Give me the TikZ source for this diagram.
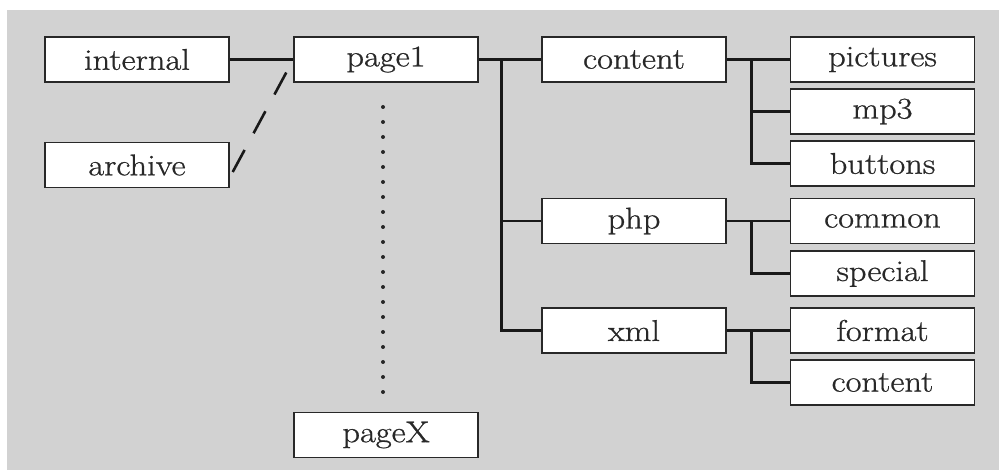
\documentclass[tikz,border=0pt]{standalone}
\usepackage{fontspec}
\setmainfont{Latin Modern Roman}[FakeStretch=1.15, FakeBold=0.8]
\definecolor{panel}{RGB}{210,210,210}
\definecolor{ink}{RGB}{40,40,40}
\tikzset{
  folder/.style={draw=ink, line width=1.4pt, fill=white, minimum width=184pt,
    minimum height=45pt, inner sep=0pt, text=ink,
    font=\fontsize{30}{34}\selectfont},
  link/.style={line width=2.6pt, black!90},
  dashlink/.style={line width=2.6pt, black!90, dash pattern=on 25pt off 19pt}
}
\begin{document}
\begin{tikzpicture}[x=1pt, y=-1pt]
  \useasboundingbox (0,0) rectangle (999,470);
  \fill[panel] (7,10) rectangle (999,470);

  % left column and page chain
  \node[folder] (internal) at (137,59.5) {internal};
  \node[folder] (archive)  at (137,165)  {archive};
  \node[folder] (page1)    at (386,59.5) {page1};
  \node[folder] (pageX)    at (386,435)  {pageX};

  % first-level folders
  \node[folder] (content) at (634,59.5) {content};
  \node[folder] (php)     at (634,221)  {php};
  \node[folder] (xml)     at (634,330.5){xml};

  % second-level folders
  \node[folder] (pictures) at (882.5,59.5)  {pictures};
  \node[folder] (mp3)      at (882.5,111.5) {mp3};
  \node[folder] (buttons)  at (882.5,163.5) {buttons};
  \node[folder] (common)   at (882.5,221)   {common};
  \node[folder] (special)  at (882.5,273.5) {special};
  \node[folder] (format)   at (882.5,330.5) {format};
  \node[folder] (content2) at (882.5,382.5) {content};

  % links into page1
  \draw[link] (internal.east) -- (page1.west);
  \draw[dashlink] ([xshift=3pt,yshift=-7pt]archive.east) -- (page1.west);

  % elided pages between page1 and pageX
  \foreach \k in {0,...,19}
    \fill[black!85] (383,107+15*\k) circle (2pt);

  % page1 subtree
  \draw[link] (page1.east) -- (content.west);
  \draw[link] (page1.east) -- ++(23,0) |- (xml.west);
  \draw[link] (page1.east) ++(23,0) |- (php.west);

  % content subtree
  \draw[link] (content.east) -- (pictures.west);
  \draw[link] (content.east) -- ++(25,0) |- (buttons.west);
  \draw[link] (content.east) ++(25,0) |- (mp3.west);

  % php subtree
  \draw[link] (php.east) -- (common.west);
  \draw[link] (php.east) -- ++(25,0) |- (special.west);

  % xml subtree
  \draw[link] (xml.east) -- (format.west);
  \draw[link] (xml.east) -- ++(25,0) |- (content2.west);
\end{tikzpicture}
\end{document}
